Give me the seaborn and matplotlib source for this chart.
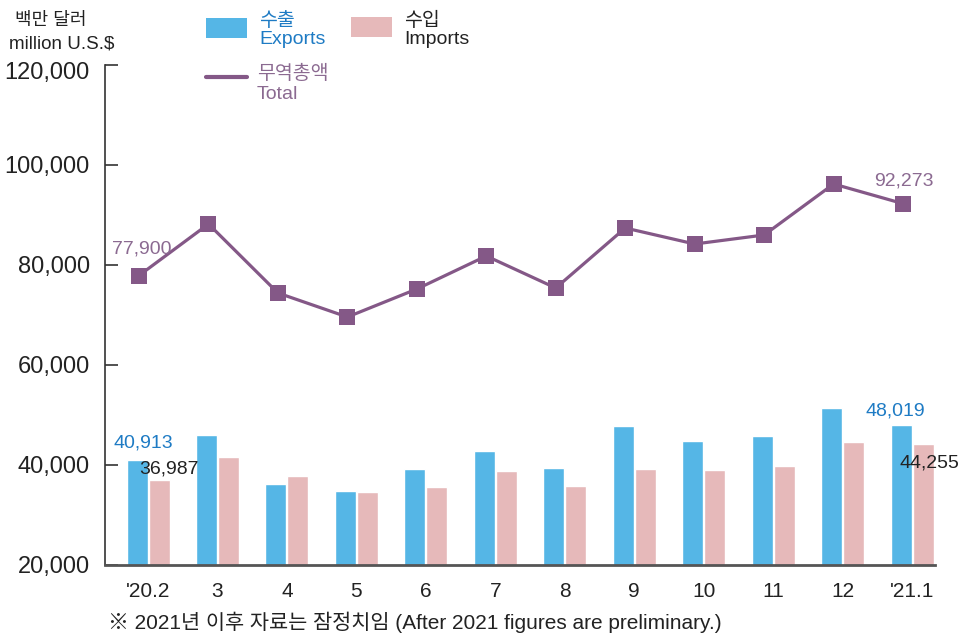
import matplotlib
matplotlib.use("Agg")
import matplotlib.pyplot as plt
from matplotlib import font_manager
from matplotlib.patches import Rectangle
from matplotlib.lines import Line2D
import matplotlib.transforms as mtransforms
import seaborn as sns
import numpy as np
import pandas as pd

# ---- data ----
months = ["'20.2", "3", "4", "5", "6", "7", "8", "9", "10", "11", "12", "'21.1"]
exports = [40913, 46000, 36200, 34800, 39200, 42800, 39400, 47800, 44800, 45800, 51400, 48019]
imports = [36987, 41600, 37800, 34600, 35600, 38800, 35800, 39200, 39000, 39800, 44600, 44255]
total = [77900, 88200, 74400, 69600, 75200, 81800, 75400, 87400, 84200, 86000, 96200, 92273]
yticks = [20000, 40000, 60000, 80000, 100000, 120000]

EXP_C = "#55B6E6"
IMP_C = "#E6B9BA"
LINE_C = "#845887"
EXP_TXT = "#1E7BC4"
TOT_TXT = "#8B6A91"
DARK = "#222222"

sns.set_theme(style="white")
names = {f.name for f in font_manager.fontManager.ttflist}
plt.rcParams["font.family"] = ["Liberation Sans", "Noto Sans CJK KR", "DejaVu Sans"]
narrow = "Liberation Sans Narrow" if "Liberation Sans Narrow" in names else "Liberation Sans"
lab_size = 15 if narrow == "Liberation Sans Narrow" else 14

W, H = 960, 634
fig = plt.figure(figsize=(W / 100, H / 100), dpi=100)
ax = fig.add_axes([105 / W, (H - 565) / H, (935 - 105) / W, (565 - 65) / H])

df = pd.DataFrame({
    "month": months * 2,
    "value": exports + imports,
    "kind": ["Exports"] * len(months) + ["Imports"] * len(months),
})
sns.barplot(data=df, x="month", y="value", hue="kind", order=months,
            palette={"Exports": EXP_C, "Imports": IMP_C}, width=0.634, gap=0.045,
            saturation=1, legend=False, ax=ax)

line_shift = -0.13
sns.lineplot(x=np.arange(len(months)) + line_shift, y=total, color=LINE_C, lw=2.3,
             marker="s", markersize=11.5, markeredgewidth=0, ax=ax)

ax.set_xlim(-0.62, 11.33)
ax.set_ylim(20000, 120000)
ax.set_yticks(yticks)
ax.set_yticklabels([f"{v:,}" for v in yticks], fontsize=17, color=DARK)
ax.set_xticks(range(len(months)))
ax.set_xticklabels(months, fontsize=15, color=DARK)
ax.tick_params(axis="y", direction="in", length=9, width=1.2, color="#333333", pad=11, left=True)
ax.tick_params(axis="x", length=0, pad=12)
ax.set_xlabel("")
ax.set_ylabel("")
for s in ["top", "right"]:
    ax.spines[s].set_visible(False)
ax.spines["left"].set_color("#333333")
ax.spines["left"].set_linewidth(1.2)
ax.spines["bottom"].set_color("#555555")
ax.spines["bottom"].set_linewidth(2)
ax.grid(False)

# top tick label sits a little lower in the reference
top_lab = ax.get_yticklabels()[-1]
top_lab.set_transform(top_lab.get_transform() +
                      mtransforms.ScaledTranslation(0, -6 / 100, fig.dpi_scale_trans))

# data labels
def lab(i, v, dx, dy, color):
    ax.annotate(f"{v:,}", xy=(i, v), xytext=(dx, dy), textcoords="offset pixels",
                ha="center", va="center", fontsize=lab_size, color=color, family=narrow)

lab(0, exports[0], -5, 17, EXP_TXT)
lab(0, imports[0], 21, 11, DARK)
lab(11, exports[11], -17, 14, EXP_TXT)
lab(11, imports[11], 17, -19, DARK)
lab(0, total[0], -6, 27, TOT_TXT)
lab(11, total[11], -8, 23, TOT_TXT)

def ft(x, y, s, **kw):
    fig.text(x / W, 1 - y / H, s, **kw)

# unit label
ft(15, 25, "백만 달러", fontsize=13, color=DARK, va="baseline", ha="left")
ft(9, 48, "million U.S.$", fontsize=13.5, color=DARK, va="baseline", ha="left")

# legend
fig.add_artist(Rectangle((206 / W, 1 - 38 / H), 41 / W, 20 / H, transform=fig.transFigure,
                         facecolor=EXP_C, edgecolor="none"))
fig.add_artist(Rectangle((351 / W, 1 - 37 / H), 41 / W, 20 / H, transform=fig.transFigure,
                         facecolor=IMP_C, edgecolor="none"))
fig.add_artist(Line2D([206 / W, 247 / W], [1 - 77 / H, 1 - 77 / H], transform=fig.transFigure,
                      color=LINE_C, lw=3))
ft(259, 26, "수출", fontsize=14, color=EXP_TXT, va="baseline")
ft(259, 44, "Exports", fontsize=14, color=EXP_TXT, va="baseline")
ft(404, 26, "수입", fontsize=14, color=DARK, va="baseline")
ft(404, 44, "Imports", fontsize=14, color=DARK, va="baseline")
ft(257, 79, "무역총액", fontsize=14, color=TOT_TXT, va="baseline")
ft(257, 99, "Total", fontsize=14, color=TOT_TXT, va="baseline")

# footnote
ft(108, 629, "※ 2021년 이후 자료는 잠정치임 (After 2021 figures are preliminary.)",
   fontsize=15, color=DARK, va="baseline")

fig.savefig("out.png", dpi=100)
